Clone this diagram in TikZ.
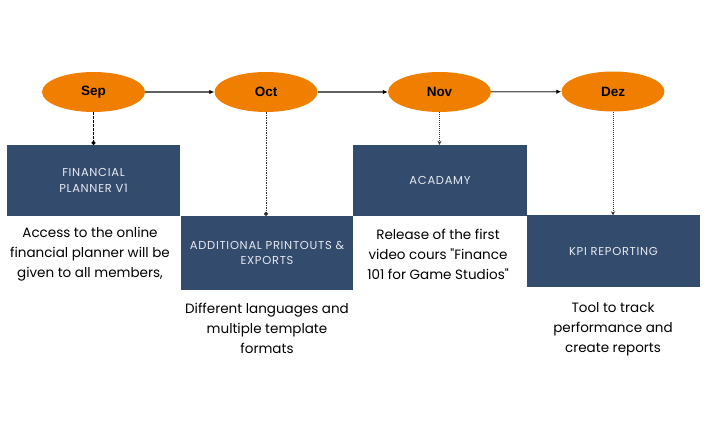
\documentclass[tikz,border=0pt]{standalone}
\usepackage{fontspec}
\setmainfont{Poppins}
\newfontfamily\descfont{Poppins}
\newfontfamily\boxfont[LetterSpace=6]{Poppins}
\newfontfamily\monthfont{Liberation Sans}
\usetikzlibrary{shapes.geometric,arrows.meta}
\definecolor{orangeM}{HTML}{F07F00}
\definecolor{navyBox}{HTML}{334B6C}
\definecolor{boxText}{HTML}{E6EAF0}
\definecolor{lineGray}{HTML}{606060}
\tikzset{
  month/.style={ellipse, fill=orangeM, minimum width=103pt, minimum height=40pt, inner sep=0pt,
    font=\monthfont\bfseries\fontsize{13.5}{15}\selectfont, text=black},
  stagebox/.style={rectangle, fill=navyBox, inner sep=0pt, text=boxText, align=center,
    font=\boxfont\fontsize{11.5}{15.5}\selectfont},
  desc/.style={align=center, text=black, inner sep=0pt, font=\descfont\fontsize{13.5}{20}\selectfont},
  flow/.style={draw=lineGray, line width=1.3pt, -{Latex[length=5pt,width=4.5pt,color=black]}},
  dropA/.style={draw=black, line width=1.2pt, dash pattern=on 2.5pt off 1.5pt, -{Circle[length=4pt,width=4pt]}},
  dropB/.style={draw=black!80, line width=1pt, dash pattern=on 1.5pt off 1pt, -{Circle[length=4pt,width=4pt]}},
  dropC/.style={draw=black!80, line width=0.8pt, dash pattern=on 1pt off 1pt, -{Stealth[length=4pt,width=4pt]}},
}
\begin{document}
\begin{tikzpicture}[x=1pt,y=-1pt]
\useasboundingbox (0,0) rectangle (720,430);
% months
\node[month] (sep) at (93.5,92) {Sep};
\node[month] (oct) at (266,92) {Oct};
\node[month] (nov) at (439.5,92) {Nov};
\node[month] (dez) at (613,91.5) {Dez};
% boxes
\node[stagebox, minimum width=173pt, minimum height=71pt] (b1) at (93.5,180.5) {FINANCIAL\\PLANNER V1};
\node[stagebox, minimum width=172pt, minimum height=74pt] (b2) at (267,253) {ADDITIONAL PRINTOUTS \&\\EXPORTS};
\node[stagebox, minimum width=174pt, minimum height=71pt] (b3) at (440,180.5) {ACADAMY};
\node[stagebox, minimum width=173pt, minimum height=72pt] (b4) at (613.5,251.5) {KPI REPORTING};
% descriptions
\node[desc] (d1) at (90,254.5) {Access to the online\\financial planner will be\\given to all members,};
\node[desc] (d2) at (267,328.5) {Different languages and\\multiple template\\formats};
\node[desc] (d3) at (438,254.5) {Release of the first\\video cours "Finance\\101 for Game Studios"};
\node[desc] (d4) at (613,329) {Tool to track\\performance and\\create reports};
% timeline arrows
\draw[flow] (sep) -- (oct);
\draw[flow] (oct) -- (nov);
\draw[flow] (nov) -- (dez);
% drops
\draw[dropA] (sep.south) -- (sep.south |- b1.north);
\draw[dropB] (oct.south) -- (oct.south |- b2.north);
\draw[dropC] (nov.south) -- (nov.south |- b3.north);
\draw[dropC] (dez.south) -- (dez.south |- b4.north);
\end{tikzpicture}
\end{document}
